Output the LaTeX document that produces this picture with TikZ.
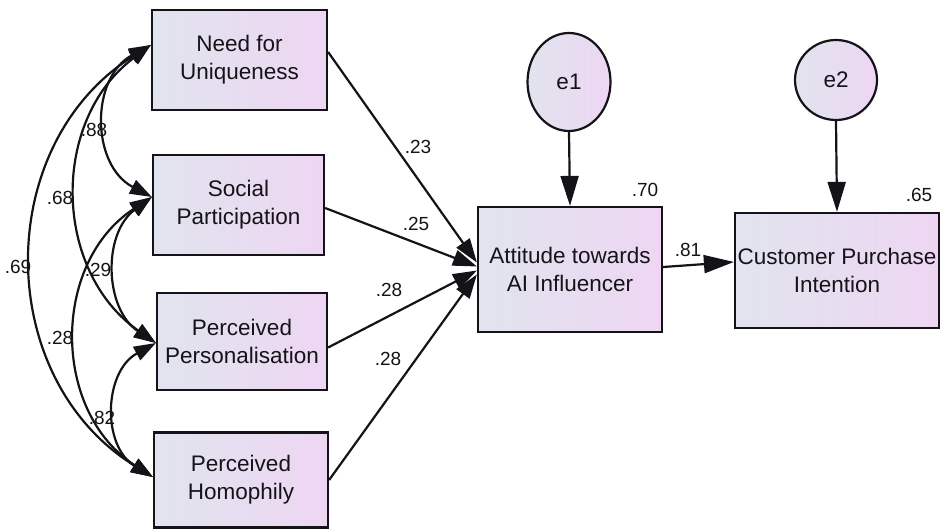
\documentclass[tikz,border=0pt]{standalone}
\usepackage{fontspec}
\setmainfont{Liberation Sans}
\usetikzlibrary{arrows.meta,shapes.geometric}

\definecolor{fillL}{RGB}{225,228,238}
\definecolor{fillR}{RGB}{238,214,243}
\definecolor{ink}{RGB}{20,20,24}

\tikzset{
  varbox/.style={draw=ink, line width=2.2pt, left color=fillL, right color=fillR,
    align=center, text=ink, inner sep=0pt,
    font=\fontsize{22.5}{28}\selectfont},
  errnode/.style={ellipse, draw=ink, line width=2.2pt, left color=fillL, right color=fillR,
    text=ink, inner sep=0pt, font=\fontsize{22.5}{26}\selectfont},
  coef/.style={text=ink, inner sep=0pt, font=\fontsize{19}{21}\selectfont},
  path/.style={draw=ink, line width=2.2pt, -{Triangle[length=24pt,width=16pt]}},
  errpath/.style={draw=ink, line width=2.2pt, -{Triangle[length=30pt,width=18pt]}},
  cov/.style={draw=ink, line width=2.2pt,
    {Triangle[length=22pt,width=15pt]}-{Triangle[length=22pt,width=15pt]}}
}

\begin{document}
\begin{tikzpicture}[x=1pt, y=-1pt]
\useasboundingbox (0,0) rectangle (941,529);

% exogenous variables
\node[varbox, minimum width=175pt, minimum height=100pt] (nfu) at (239.5,60) {Need for\\Uniqueness};
\node[varbox, minimum width=171pt, minimum height=100pt] (sp)  at (238.5,205) {Social\\Participation};
\node[varbox, minimum width=170pt, minimum height=97pt]  (pp)  at (242,341.5) {Perceived\\Personalisation};
\node[varbox, minimum width=174pt, minimum height=95pt]  (ph)  at (241,480) {Perceived\\Homophily};

% endogenous variables
\node[varbox, minimum width=184pt, minimum height=125pt] (att) at (570,269.5) {Attitude towards\\AI Influencer};
\node[varbox, minimum width=204pt, minimum height=115pt] (cpi) at (837,270.5) {Customer Purchase\\Intention};

% error terms
\node[errnode, minimum width=83pt, minimum height=98pt] (e1) at (569,82) {e1};
\node[errnode, minimum width=82pt, minimum height=80pt] (e2) at (836,80) {e2};

% attachment points on the box sides
\coordinate (nfuL) at ([yshift=15pt]nfu.west);
\coordinate (spL)  at ([yshift=8pt]sp.west);
\coordinate (ppL)  at ([yshift=-1.5pt]pp.west);
\coordinate (phL)  at ([yshift=3pt]ph.west);

% correlations between exogenous variables
\draw[cov] (nfuL) to[bend right=58, looseness=1.11] (phL);
\draw[cov] (nfuL) to[bend right=54, looseness=1.08] (ppL);
\draw[cov] (nfuL) to[bend right=62, looseness=1.16] (spL);
\draw[cov] (spL)  to[bend right=57, looseness=1.10] (phL);
\draw[cov] (spL)  to[bend right=55, looseness=1.08] (ppL);
\draw[cov] (ppL)  to[bend right=60, looseness=1.14] (phL);

% structural paths
\draw[path] ([yshift=8pt]nfu.east) -- ([yshift=7pt]att.west);
\draw[path] ([yshift=-3pt]sp.east) -- ([yshift=3pt]att.west);
\draw[path] ([yshift=-6pt]pp.east) -- ([yshift=-1pt]att.west);
\draw[path] (ph.east) -- ([yshift=-5pt]att.west);
\draw[errpath] ([yshift=2.5pt]att.east) -- ([yshift=8.5pt]cpi.west);
\draw[errpath] (e1.south) -- (att.north);
\draw[errpath] (e2.south) -- (cpi.north);

% coefficients
\node[coef] (r88) at (94,130) {.88};
\node[coef] (r68) at (60,198) {.68};
\node[coef] (r69) at (18,267) {.69};
\node[coef] (r29) at (98,270) {.29};
\node[coef] (r28) at (60,338) {.28};
\node[coef] (r82) at (102,418) {.82};

\node[coef] (b1) at (418,147) {.23};
\node[coef] (b2) at (416,224) {.25};
\node[coef] (b3) at (389,290) {.28};
\node[coef] (b4) at (388,359) {.28};
\node[coef] (b5) at (688,250) {.81};

\node[coef] (sq1) at (645,190) {.70};
\node[coef] (sq2) at (919,195) {.65};
\end{tikzpicture}
\end{document}
